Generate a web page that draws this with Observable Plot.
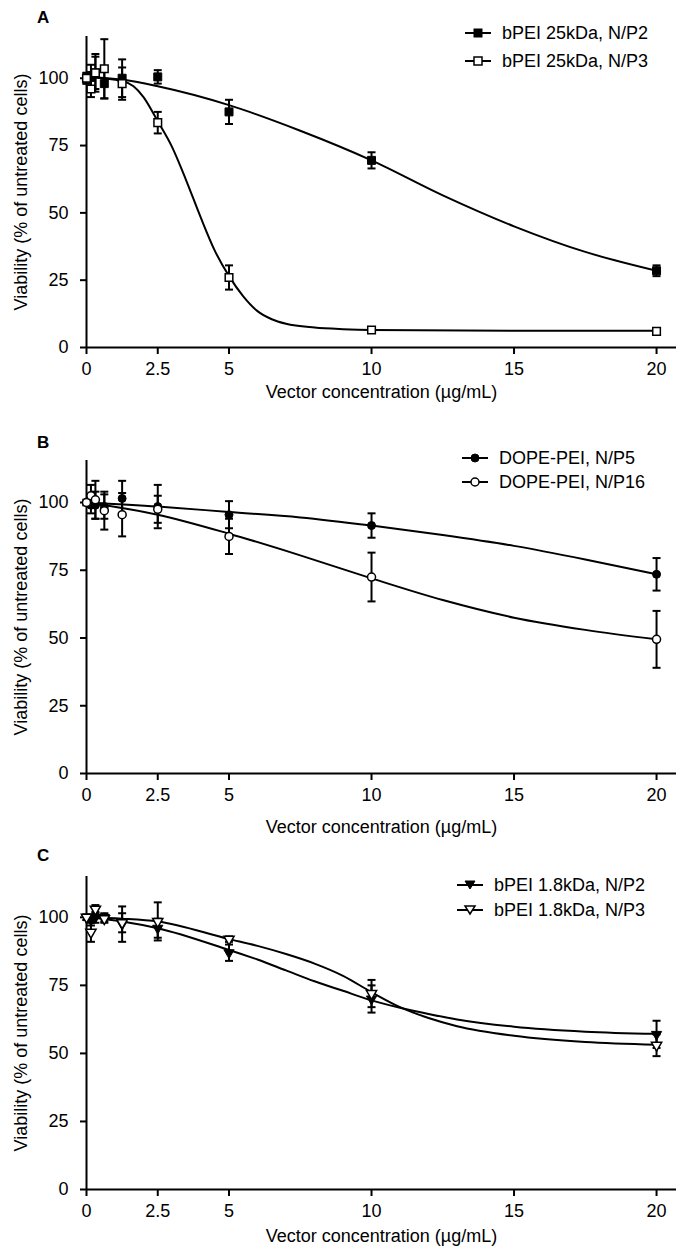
<!DOCTYPE html>
<html><head><meta charset="utf-8">
<script src="https://cdn.jsdelivr.net/npm/d3@7"></script>
<script src="https://cdn.jsdelivr.net/npm/@observablehq/plot@0.6"></script>
<style>
html,body{margin:0;padding:0;background:#fff;}
#wrap{position:relative;width:676px;height:1249px;font-family:"Liberation Sans",Arial,sans-serif;color:#000;overflow:hidden;}
.panel{position:absolute;left:0;}
.letter{position:absolute;font-weight:bold;font-size:17px;line-height:1;}
.lrow{position:absolute;font-size:18px;line-height:1;white-space:nowrap;display:flex;align-items:center;}
.lrow svg{margin-right:11px;}
g[aria-label="x-axis tick"], g[aria-label="y-axis tick"]{stroke-width:2;}
g[aria-label="x-axis"] line, g[aria-label="y-axis"] line{stroke-width:2;}
</style>
</head><body>
<div id="wrap"></div>
<script>
// ---------- data ----------
const conc = [0, 0.156, 0.3125, 0.625, 1.25, 2.5, 5, 10, 20];
const xTicks = [0, 2.5, 5, 10, 15, 20];
const xTickLabels = ["0", "2.5", "5", "10", "15", "20"];
const yTicks = [0, 25, 50, 75, 100];

// Panel A
const seriesA = ["bPEI 25kDa, N/P2", "bPEI 25kDa, N/P3"];
const a1Mean = [100, 101, 102, 98, 100, 100.5, 87.5, 69.5, 28.5];
const a1Err  = [2, 4, 6, 5.5, 7, 2.5, 4.5, 3, 2];
const a2Mean = [100, 96, 102, 103.5, 98, 83.5, 26, 6.5, 6];
const a2Err  = [2, 3, 7, 11, 6, 4, 4.5, 1, 1];
const a1CurveX = [0, 1.25, 2.5, 5, 7.5, 10, 12.5, 15, 17.5, 20];
const a1CurveY = [100.5, 99.5, 97, 90, 80.5, 69.5, 56.5, 45, 35.5, 28.5];
const a2CurveX = [0, 1.25, 1.65, 2, 2.5, 3, 3.5, 4, 4.5, 5, 5.5, 6, 6.5, 7, 8, 9, 10, 15, 20];
const a2CurveY = [100.5, 99, 97, 93, 84, 74.5, 62, 48.5, 36, 26.5, 19, 13.5, 10.5, 8.8, 7.4, 6.8, 6.5, 6.2, 6.2];

// Panel B
const seriesB = ["DOPE-PEI, N/P5", "DOPE-PEI, N/P16"];
const b1Mean = [100, 99, 99, 98.5, 101.5, 98.5, 95.5, 91.5, 73.5];
const b1Err  = [1, 3, 5, 4.5, 6.5, 8, 5, 4.5, 6];
const b2Mean = [100, 102.5, 101, 97, 95.5, 97.5, 87.5, 72.5, 49.5];
const b2Err  = [1, 4, 7, 7, 8, 5, 6.5, 9, 10.5];
const b1CurveX = [0, 2.5, 5, 7.5, 10, 12.5, 15, 17.5, 20];
const b1CurveY = [100, 98.5, 96.5, 94.5, 91.5, 88, 84, 79, 73.5];
const b2CurveX = [0, 2.5, 5, 7.5, 10, 12.5, 15, 17.5, 20];
const b2CurveY = [100, 95.5, 88.5, 80.5, 72, 64, 57.5, 53, 49.5];

// Panel C
const seriesC = ["bPEI 1.8kDa, N/P2", "bPEI 1.8kDa, N/P3"];
const c1Mean = [100, 99, 100, 100, 97.5, 96, 87, 70, 57];
const c1Err  = [1, 2, 2, 1.5, 6.5, 3.5, 3, 5, 5];
const c2Mean = [100, 94.5, 103, 99.5, 98, 98.5, 92, 72, 53];
const c2Err  = [1, 3.5, 1.5, 1.5, 3.5, 7, 1, 5, 4];
const c1CurveX = [0, 1.25, 2.5, 5, 6, 7, 8, 9, 10, 11, 12, 13, 15, 17.5, 20];
const c1CurveY = [100, 98.5, 96, 88, 84.5, 80.5, 76.5, 73, 69.5, 66.8, 64.5, 62.5, 59.8, 58, 57.2];
const c2CurveX = [0, 1.25, 2.5, 5, 6, 7, 8, 9, 10, 11, 12, 13, 15, 17.5, 20];
const c2CurveY = [100, 99.5, 98.5, 92, 89.5, 86.5, 83, 78.5, 72.5, 67, 63, 60, 56.5, 54.2, 53.2];

// ---------- drawing ----------
const FONT = '"Liberation Sans", Arial, sans-serif';
const capSymbol = {draw(ctx, size) { const w = Math.sqrt(size / Math.PI); ctx.moveTo(-w, 0); ctx.lineTo(w, 0); }};

function rows(means, errs) {
  return conc.map((c, i) => ({x: c, y: means[i], lo: means[i] - errs[i], hi: means[i] + errs[i]}));
}
function curve(xs, ys) { return xs.map((x, i) => ({x, y: ys[i]})); }

function makePanel(cfg) {
  const marks = [];
  cfg.series.forEach(s => marks.push(Plot.line(curve(s.cx, s.cy), {x: "x", y: "y", curve: "monotone-x", stroke: "black", strokeWidth: 2})));
  marks.push(Plot.ruleY([0], {stroke: "black", strokeWidth: 2}));
  marks.push(Plot.ruleX([0], {stroke: "black", strokeWidth: 2}));
  cfg.series.forEach(s => {
    const d = rows(s.mean, s.err);
    marks.push(Plot.ruleX(d, {x: "x", y1: "lo", y2: "hi", stroke: "black", strokeWidth: 2}));
    marks.push(Plot.dot(d, {x: "x", y: "hi", symbol: capSymbol, r: 4, fill: "none", stroke: "black", strokeWidth: 2}));
    marks.push(Plot.dot(d, {x: "x", y: "lo", symbol: capSymbol, r: 4, fill: "none", stroke: "black", strokeWidth: 2}));
  });
  cfg.series.forEach(s => {
    const d = rows(s.mean, s.err);
    marks.push(Plot.dot(d, {x: "x", y: "y", symbol: s.symbol, r: s.r, fill: s.open ? "white" : "black", stroke: "black", strokeWidth: s.open ? 1.5 : 1, rotate: s.rotate || 0}));
  });
  return Plot.plot({
    width: 676, height: cfg.height,
    marginLeft: 86, marginRight: 0, marginTop: cfg.mt, marginBottom: cfg.mb,
    style: {fontFamily: FONT, fontSize: "18px", background: "transparent", color: "black", overflow: "visible"},
    x: {domain: [0, 20.7], ticks: xTicks, tickFormat: d => xTickLabels[xTicks.indexOf(d)], tickSize: 7, tickPadding: 8,
        label: "Vector concentration (µg/mL)", labelAnchor: "center", labelOffset: cfg.xlo, labelArrow: "none"},
    y: {domain: [0, cfg.ytop], ticks: yTicks, tickSize: 6, tickPadding: 12,
        label: "Viability (% of untreated cells)", labelAnchor: "center", labelOffset: 72, labelArrow: "none"},
    marks
  });
}

function swatch(s) {
  let sym = "";
  if (s.symbol === "square") sym = `<rect x="9" y="2" width="8" height="8" fill="${s.open ? "white" : "black"}" stroke="black" stroke-width="${s.open ? 1.5 : 1}"/>`;
  if (s.symbol === "circle") sym = `<circle cx="13" cy="6" r="4" fill="${s.open ? "white" : "black"}" stroke="black" stroke-width="${s.open ? 1.5 : 1}"/>`;
  if (s.symbol === "triangle") sym = `<polygon points="8,2 18,2 13,10" fill="${s.open ? "white" : "black"}" stroke="black" stroke-width="${s.open ? 1.5 : 1}"/>`;
  return `<svg width="26" height="12"><line x1="0" y1="6" x2="26" y2="6" stroke="black" stroke-width="2"/>${sym}</svg>`;
}

const panels = [
  {top: 0, height: 416, mt: 36, mb: 69, ytop: 115.5, xlo: 50, letter: "A", letterTop: 9, letterLeft: 37,
   legend: {left: 465, rows: [33, 61]},
   series: [
     {name: seriesA[0], mean: a1Mean, err: a1Err, cx: a1CurveX, cy: a1CurveY, symbol: "square", r: 4.5, open: false},
     {name: seriesA[1], mean: a2Mean, err: a2Err, cx: a2CurveX, cy: a2CurveY, symbol: "square", r: 4.3, open: true}]},
  {top: 416, height: 416, mt: 44, mb: 59, ytop: 115.5, xlo: 59, letter: "B", letterTop: 434, letterLeft: 37,
   legend: {left: 462, rows: [458, 482]},
   series: [
     {name: seriesB[0], mean: b1Mean, err: b1Err, cx: b1CurveX, cy: b1CurveY, symbol: "circle", r: 4, open: false},
     {name: seriesB[1], mean: b2Mean, err: b2Err, cx: b2CurveX, cy: b2CurveY, symbol: "circle", r: 4, open: true}]},
  {top: 832, height: 417, mt: 44, mb: 60, ytop: 115, xlo: 52, letter: "C", letterTop: 847, letterLeft: 37,
   legend: {left: 457, rows: [885, 910]},
   series: [
     {name: seriesC[0], mean: c1Mean, err: c1Err, cx: c1CurveX, cy: c1CurveY, symbol: "triangle", r: 3.8, open: false, rotate: 180},
     {name: seriesC[1], mean: c2Mean, err: c2Err, cx: c2CurveX, cy: c2CurveY, symbol: "triangle", r: 3.8, open: true, rotate: 180}]}
];

const wrap = document.getElementById("wrap");
panels.forEach(p => {
  const div = document.createElement("div");
  div.className = "panel";
  div.style.top = p.top + "px";
  div.appendChild(makePanel(p));
  wrap.appendChild(div);
  const L = document.createElement("div");
  L.className = "letter";
  L.textContent = p.letter;
  L.style.left = p.letterLeft + "px";
  L.style.top = p.letterTop + "px";
  wrap.appendChild(L);
  p.series.forEach((s, i) => {
    const r = document.createElement("div");
    r.className = "lrow";
    r.style.left = p.legend.left + "px";
    r.style.top = (p.legend.rows[i] - 9) + "px";
    r.innerHTML = swatch(s) + `<span>${s.name}</span>`;
    wrap.appendChild(r);
  });
});
</script>
</body></html>
